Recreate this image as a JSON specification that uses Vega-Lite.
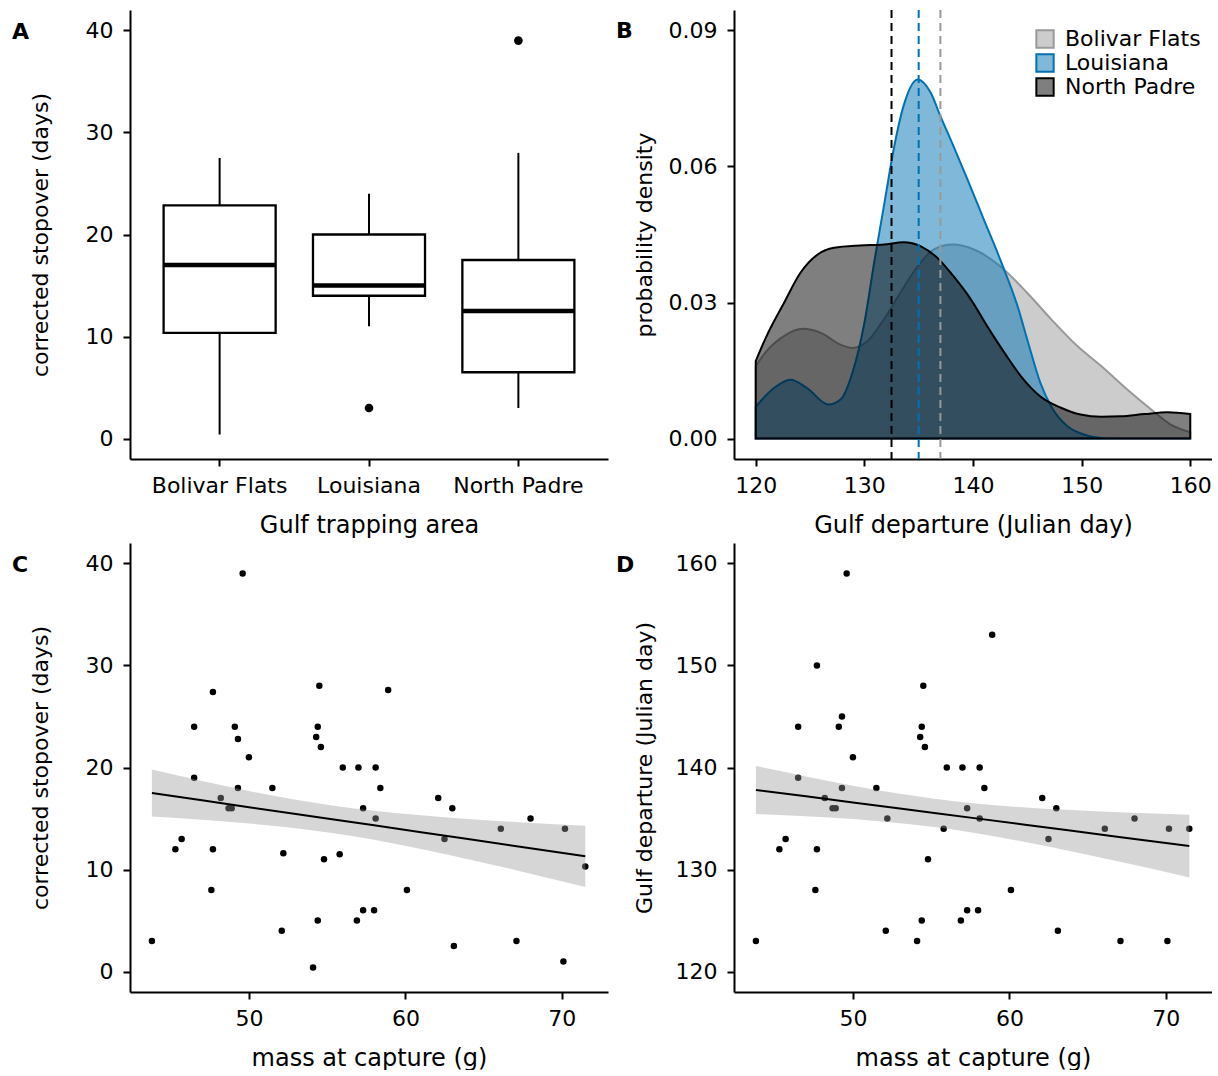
{
  "$schema": "https://vega.github.io/schema/vega-lite/v6.json",
  "background": "white",
  "padding": {"left": 12, "top": 9, "right": 0, "bottom": 0},
  "columns": 2,
  "spacing": {"row": 6, "column": 8},
  "resolve": {"scale": {"fill": "independent", "stroke": "independent"}, "legend": {"fill": "independent", "stroke": "independent"}},
  "config": {
    "font": "DejaVu Sans",
    "view": {"stroke": null},
    "axis": {
      "domainColor": "black", "domainWidth": 2, "tickColor": "black", "tickWidth": 2, "tickSize": 7,
      "labelColor": "black", "labelFontSize": 22, "labelFont": "DejaVu Sans", "labelPadding": 9,
      "titleFont": "DejaVu Sans", "titleFontSize": 24, "titleFontWeight": "normal", "titleColor": "black",
      "titlePadding": 17, "grid": false
    },
    "axisY": {"titleFontSize": 22, "minExtent": 68, "maxExtent": 68, "titlePadding": 10, "labelPadding": 10},
    "title": {"fontSize": 22, "fontWeight": "bold", "font": "DejaVu Sans", "color": "black", "anchor": "start", "frame": "group", "offset": 0, "dx": -118, "dy": 38, "baseline": "alphabetic"}
  },
  "datasets": {
    "box": [
      {"site": "Bolivar Flats", "lower": 0.4, "q1": 10.35, "median": 17.0, "q3": 22.85, "upper": 27.5},
      {"site": "Louisiana", "lower": 11.0, "q1": 14.0, "median": 15.0, "q3": 20.0, "upper": 24.0},
      {"site": "North Padre", "lower": 3.0, "q1": 6.5, "median": 12.5, "q3": 17.5, "upper": 28.0}
    ],
    "outliers": [
      {"site": "Louisiana", "value": 3.0},
      {"site": "North Padre", "value": 39.0}
    ],
    "density": [
      {"site": "Bolivar Flats", "day": 120.0, "dens": 0.016},
      {"site": "Bolivar Flats", "day": 121.0, "dens": 0.0193},
      {"site": "Bolivar Flats", "day": 122.6, "dens": 0.0226},
      {"site": "Bolivar Flats", "day": 124.3, "dens": 0.0242},
      {"site": "Bolivar Flats", "day": 126.0, "dens": 0.0233},
      {"site": "Bolivar Flats", "day": 127.8, "dens": 0.0207},
      {"site": "Bolivar Flats", "day": 128.9, "dens": 0.0200},
      {"site": "Bolivar Flats", "day": 130.3, "dens": 0.0215},
      {"site": "Bolivar Flats", "day": 131.8, "dens": 0.0263},
      {"site": "Bolivar Flats", "day": 133.3, "dens": 0.0321},
      {"site": "Bolivar Flats", "day": 134.9, "dens": 0.0380},
      {"site": "Bolivar Flats", "day": 136.4, "dens": 0.0417},
      {"site": "Bolivar Flats", "day": 138.1, "dens": 0.0428},
      {"site": "Bolivar Flats", "day": 140.1, "dens": 0.0417},
      {"site": "Bolivar Flats", "day": 142.5, "dens": 0.0380},
      {"site": "Bolivar Flats", "day": 145.0, "dens": 0.0321},
      {"site": "Bolivar Flats", "day": 147.2, "dens": 0.0263},
      {"site": "Bolivar Flats", "day": 149.6, "dens": 0.0204},
      {"site": "Bolivar Flats", "day": 151.8, "dens": 0.0160},
      {"site": "Bolivar Flats", "day": 154.2, "dens": 0.0108},
      {"site": "Bolivar Flats", "day": 156.4, "dens": 0.0064},
      {"site": "Bolivar Flats", "day": 158.2, "dens": 0.0031},
      {"site": "Bolivar Flats", "day": 160.0, "dens": 0.0014},
      {"site": "Louisiana", "day": 120.0, "dens": 0.0070},
      {"site": "Louisiana", "day": 121.7, "dens": 0.0112},
      {"site": "Louisiana", "day": 123.2, "dens": 0.0130},
      {"site": "Louisiana", "day": 124.7, "dens": 0.0112},
      {"site": "Louisiana", "day": 126.7, "dens": 0.0075},
      {"site": "Louisiana", "day": 127.8, "dens": 0.0086},
      {"site": "Louisiana", "day": 128.9, "dens": 0.0145},
      {"site": "Louisiana", "day": 130.0, "dens": 0.0255},
      {"site": "Louisiana", "day": 130.9, "dens": 0.0388},
      {"site": "Louisiana", "day": 131.9, "dens": 0.0527},
      {"site": "Louisiana", "day": 132.7, "dens": 0.0638},
      {"site": "Louisiana", "day": 133.6, "dens": 0.0733},
      {"site": "Louisiana", "day": 134.9, "dens": 0.0792},
      {"site": "Louisiana", "day": 136.1, "dens": 0.0763},
      {"site": "Louisiana", "day": 137.0, "dens": 0.0711},
      {"site": "Louisiana", "day": 138.2, "dens": 0.0645},
      {"site": "Louisiana", "day": 139.5, "dens": 0.0571},
      {"site": "Louisiana", "day": 141.0, "dens": 0.0483},
      {"site": "Louisiana", "day": 142.5, "dens": 0.0395},
      {"site": "Louisiana", "day": 144.1, "dens": 0.0292},
      {"site": "Louisiana", "day": 145.0, "dens": 0.0218},
      {"site": "Louisiana", "day": 146.2, "dens": 0.0123},
      {"site": "Louisiana", "day": 147.2, "dens": 0.0071},
      {"site": "Louisiana", "day": 148.7, "dens": 0.0027},
      {"site": "Louisiana", "day": 150.2, "dens": 0.0009},
      {"site": "Louisiana", "day": 152.1, "dens": 0.0001},
      {"site": "Louisiana", "day": 154.8, "dens": 0.0},
      {"site": "Louisiana", "day": 160.0, "dens": 0.0},
      {"site": "North Padre", "day": 120.0, "dens": 0.0171},
      {"site": "North Padre", "day": 121.0, "dens": 0.0226},
      {"site": "North Padre", "day": 122.6, "dens": 0.0299},
      {"site": "North Padre", "day": 124.1, "dens": 0.0365},
      {"site": "North Padre", "day": 125.7, "dens": 0.0406},
      {"site": "North Padre", "day": 127.2, "dens": 0.0421},
      {"site": "North Padre", "day": 129.6, "dens": 0.0426},
      {"site": "North Padre", "day": 131.8, "dens": 0.0428},
      {"site": "North Padre", "day": 133.6, "dens": 0.0433},
      {"site": "North Padre", "day": 135.2, "dens": 0.0424},
      {"site": "North Padre", "day": 136.7, "dens": 0.0399},
      {"site": "North Padre", "day": 138.2, "dens": 0.0358},
      {"site": "North Padre", "day": 139.8, "dens": 0.0307},
      {"site": "North Padre", "day": 141.3, "dens": 0.0248},
      {"site": "North Padre", "day": 142.9, "dens": 0.0189},
      {"site": "North Padre", "day": 144.4, "dens": 0.0138},
      {"site": "North Padre", "day": 146.2, "dens": 0.0093},
      {"site": "North Padre", "day": 148.1, "dens": 0.0068},
      {"site": "North Padre", "day": 149.9, "dens": 0.0053},
      {"site": "North Padre", "day": 151.8, "dens": 0.0048},
      {"site": "North Padre", "day": 153.6, "dens": 0.0049},
      {"site": "North Padre", "day": 155.8, "dens": 0.0054},
      {"site": "North Padre", "day": 157.9, "dens": 0.0058},
      {"site": "North Padre", "day": 160.0, "dens": 0.0054}
    ],
    "means": [
      {"site": "Bolivar Flats", "day": 137.0},
      {"site": "Louisiana", "day": 135.0},
      {"site": "North Padre", "day": 132.5}
    ],
    "birds": [
      {"mass": 43.8, "stop": 3, "dep": 123},
      {"mass": 49.6, "stop": 39, "dep": 159},
      {"mass": 47.7, "stop": 27.4, "dep": 150},
      {"mass": 46.5, "stop": 24, "dep": 144},
      {"mass": 49.1, "stop": 24, "dep": 144},
      {"mass": 49.3, "stop": 22.8, "dep": 145},
      {"mass": 50.0, "stop": 21, "dep": 141},
      {"mass": 46.5, "stop": 19, "dep": 139},
      {"mass": 49.3, "stop": 18, "dep": 138},
      {"mass": 51.5, "stop": 18, "dep": 138},
      {"mass": 48.2, "stop": 17, "dep": 137},
      {"mass": 48.7, "stop": 16, "dep": 136},
      {"mass": 48.9, "stop": 16, "dep": 136},
      {"mass": 45.7, "stop": 13, "dep": 133},
      {"mass": 45.3, "stop": 12, "dep": 132},
      {"mass": 47.7, "stop": 12, "dep": 132},
      {"mass": 47.6, "stop": 8, "dep": 128},
      {"mass": 52.2, "stop": 11.6, "dep": 135},
      {"mass": 54.8, "stop": 11, "dep": 131},
      {"mass": 55.8, "stop": 11.5, "dep": 134},
      {"mass": 52.1, "stop": 4, "dep": 124},
      {"mass": 54.4, "stop": 5, "dep": 125},
      {"mass": 54.1, "stop": 0.4, "dep": 123},
      {"mass": 54.5, "stop": 28, "dep": 148},
      {"mass": 54.4, "stop": 24, "dep": 144},
      {"mass": 54.3, "stop": 23, "dep": 143},
      {"mass": 54.6, "stop": 22, "dep": 142},
      {"mass": 56.0, "stop": 20, "dep": 140},
      {"mass": 57.0, "stop": 20, "dep": 140},
      {"mass": 58.1, "stop": 20, "dep": 140},
      {"mass": 57.3, "stop": 16, "dep": 136},
      {"mass": 58.1, "stop": 15, "dep": 135},
      {"mass": 58.4, "stop": 18, "dep": 138},
      {"mass": 57.3, "stop": 6, "dep": 126},
      {"mass": 58.0, "stop": 6, "dep": 126},
      {"mass": 56.9, "stop": 5, "dep": 125},
      {"mass": 58.9, "stop": 27.6, "dep": 153},
      {"mass": 62.1, "stop": 17, "dep": 137},
      {"mass": 63.0, "stop": 16, "dep": 136},
      {"mass": 68.0, "stop": 15, "dep": 135},
      {"mass": 66.1, "stop": 14, "dep": 134},
      {"mass": 70.2, "stop": 14, "dep": 134},
      {"mass": 62.5, "stop": 13, "dep": 133},
      {"mass": 71.5, "stop": 10.3, "dep": 134},
      {"mass": 60.1, "stop": 8, "dep": 128},
      {"mass": 63.1, "stop": 2.5, "dep": 124},
      {"mass": 67.1, "stop": 3, "dep": 123},
      {"mass": 70.1, "stop": 1, "dep": 123}
    ],
    "bandC": [
      {"mass": 43.8, "lo": 15.2, "fit": 17.5, "hi": 19.8},
      {"mass": 47, "lo": 14.88, "fit": 16.78, "hi": 18.68},
      {"mass": 50, "lo": 14.52, "fit": 16.11, "hi": 17.7},
      {"mass": 53, "lo": 14.04, "fit": 15.44, "hi": 16.84},
      {"mass": 55.2, "lo": 13.6, "fit": 14.95, "hi": 16.3},
      {"mass": 58, "lo": 12.91, "fit": 14.33, "hi": 15.75},
      {"mass": 61, "lo": 12.01, "fit": 13.66, "hi": 15.31},
      {"mass": 64, "lo": 11.02, "fit": 12.99, "hi": 14.96},
      {"mass": 67, "lo": 9.96, "fit": 12.31, "hi": 14.66},
      {"mass": 71.5, "lo": 8.3, "fit": 11.31, "hi": 14.3}
    ],
    "bandD": [
      {"mass": 43.8, "lo": 135.45, "fit": 137.8, "hi": 140.15},
      {"mass": 47, "lo": 135.23, "fit": 137.18, "hi": 139.13},
      {"mass": 50, "lo": 134.95, "fit": 136.58, "hi": 138.21},
      {"mass": 53, "lo": 134.54, "fit": 135.98, "hi": 137.42},
      {"mass": 55.2, "lo": 134.16, "fit": 135.55, "hi": 136.94},
      {"mass": 58, "lo": 133.53, "fit": 134.99, "hi": 136.45},
      {"mass": 61, "lo": 132.69, "fit": 134.39, "hi": 136.09},
      {"mass": 64, "lo": 131.77, "fit": 133.8, "hi": 135.83},
      {"mass": 67, "lo": 130.78, "fit": 133.2, "hi": 135.62},
      {"mass": 71.5, "lo": 129.22, "fit": 132.3, "hi": 135.38}
    ]
  },
  "concat": [
    {
      "title": "A",
      "width": 478, "height": 449,
      "data": {"name": "box"},
      "encoding": {
        "x": {"field": "site", "type": "nominal",
              "scale": {"type": "band", "domain": ["Bolivar Flats", "Louisiana", "North Padre"], "paddingInner": 0.25, "paddingOuter": 0.225},
              "axis": {"title": "Gulf trapping area", "labelAngle": 0}}
      },
      "layer": [
        {"mark": {"type": "rule", "color": "black", "strokeWidth": 2},
         "encoding": {
           "y": {"field": "lower", "type": "quantitative", "title": "corrected stopover (days)",
                 "scale": {"domain": [-2, 42], "nice": false, "zero": false}, "axis": {"values": [0, 10, 20, 30, 40]}},
           "y2": {"field": "upper"}}},
        {"mark": {"type": "bar", "fill": "white", "stroke": "black", "strokeWidth": 2.3},
         "encoding": {"y": {"field": "q1", "type": "quantitative", "title": "corrected stopover (days)"}, "y2": {"field": "q3"}}},
        {"mark": {"type": "bar", "fill": "black", "stroke": "black", "strokeWidth": 4.5},
         "encoding": {"y": {"field": "median", "type": "quantitative", "title": "corrected stopover (days)"}, "y2": {"field": "median"}}},
        {"data": {"name": "outliers"},
         "mark": {"type": "circle", "color": "black", "size": 75, "opacity": 1},
         "encoding": {"y": {"field": "value", "type": "quantitative", "title": "corrected stopover (days)"}}}
      ]
    },
    {
      "title": "B",
      "width": 478, "height": 449,
      "layer": [
        {"data": {"name": "density"},
         "mark": {"type": "area", "fillOpacity": 0.5, "strokeWidth": 2, "interpolate": "monotone"},
         "encoding": {
           "x": {"field": "day", "type": "quantitative", "title": "Gulf departure (Julian day)",
                 "scale": {"domain": [118, 162], "nice": false, "zero": false}, "axis": {"values": [120, 130, 140, 150, 160]}},
           "y": {"field": "dens", "type": "quantitative", "stack": null, "title": "probability density",
                 "scale": {"domain": [-0.0045, 0.0945], "nice": false, "zero": false},
                 "axis": {"values": [0, 0.03, 0.06, 0.09], "format": ".2f"}},
           "y2": {"datum": 0},
           "fill": {"field": "site", "type": "nominal",
                    "scale": {"domain": ["Bolivar Flats", "Louisiana", "North Padre"], "range": ["#999999", "#0072B2", "#000000"]},
                    "legend": {"orient": "none", "legendX": 300, "legendY": 18, "title": null, "padding": 0,
                               "symbolType": "square", "symbolSize": 300, "symbolStrokeWidth": 2,
                               "labelFontSize": 22, "labelFont": "DejaVu Sans", "labelColor": "black",
                               "labelOffset": 9, "rowPadding": -8,
                               "encode": {"symbols": {"update": {"stroke": {"scale": "fill", "field": "value"}, "fillOpacity": {"value": 0.5}, "opacity": {"value": 1}, "strokeWidth": {"value": 2}}}}}},
           "stroke": {"field": "site", "type": "nominal",
                      "scale": {"domain": ["Bolivar Flats", "Louisiana", "North Padre"], "range": ["#999999", "#0072B2", "#000000"]},
                      "legend": null}
         }},
        {"data": {"name": "means"},
         "mark": {"type": "rule", "strokeWidth": 2, "strokeDash": [8, 5]},
         "encoding": {
           "x": {"field": "day", "type": "quantitative", "title": "Gulf departure (Julian day)"},
           "stroke": {"field": "site", "type": "nominal", "legend": null}
         }}
      ]
    },
    {
      "title": "C",
      "width": 478, "height": 449,
      "layer": [
        {"data": {"name": "birds"},
         "mark": {"type": "circle", "color": "black", "size": 42, "opacity": 1},
         "encoding": {
           "x": {"field": "mass", "type": "quantitative", "title": "mass at capture (g)",
                 "scale": {"domain": [42.4, 72.95], "nice": false, "zero": false}, "axis": {"values": [50, 60, 70]}},
           "y": {"field": "stop", "type": "quantitative", "title": "corrected stopover (days)",
                 "scale": {"domain": [-2, 42], "nice": false, "zero": false}, "axis": {"values": [0, 10, 20, 30, 40]}}
         }},
        {"data": {"name": "bandC"},
         "mark": {"type": "area", "color": "#999999", "opacity": 0.4, "interpolate": "monotone"},
         "encoding": {
           "x": {"field": "mass", "type": "quantitative", "title": "mass at capture (g)"},
           "y": {"field": "lo", "type": "quantitative", "title": "corrected stopover (days)"},
           "y2": {"field": "hi"}
         }},
        {"data": {"name": "bandC"},
         "mark": {"type": "line", "color": "black", "strokeWidth": 2},
         "encoding": {
           "x": {"field": "mass", "type": "quantitative", "title": "mass at capture (g)"},
           "y": {"field": "fit", "type": "quantitative", "title": "corrected stopover (days)"}
         }}
      ]
    },
    {
      "title": "D",
      "width": 478, "height": 449,
      "layer": [
        {"data": {"name": "birds"},
         "mark": {"type": "circle", "color": "black", "size": 42, "opacity": 1},
         "encoding": {
           "x": {"field": "mass", "type": "quantitative", "title": "mass at capture (g)",
                 "scale": {"domain": [42.4, 72.95], "nice": false, "zero": false}, "axis": {"values": [50, 60, 70]}},
           "y": {"field": "dep", "type": "quantitative", "title": "Gulf departure (Julian day)",
                 "scale": {"domain": [118, 162], "nice": false, "zero": false}, "axis": {"values": [120, 130, 140, 150, 160]}}
         }},
        {"data": {"name": "bandD"},
         "mark": {"type": "area", "color": "#999999", "opacity": 0.4, "interpolate": "monotone"},
         "encoding": {
           "x": {"field": "mass", "type": "quantitative", "title": "mass at capture (g)"},
           "y": {"field": "lo", "type": "quantitative", "title": "Gulf departure (Julian day)"},
           "y2": {"field": "hi"}
         }},
        {"data": {"name": "bandD"},
         "mark": {"type": "line", "color": "black", "strokeWidth": 2},
         "encoding": {
           "x": {"field": "mass", "type": "quantitative", "title": "mass at capture (g)"},
           "y": {"field": "fit", "type": "quantitative", "title": "Gulf departure (Julian day)"}
         }}
      ]
    }
  ]
}
